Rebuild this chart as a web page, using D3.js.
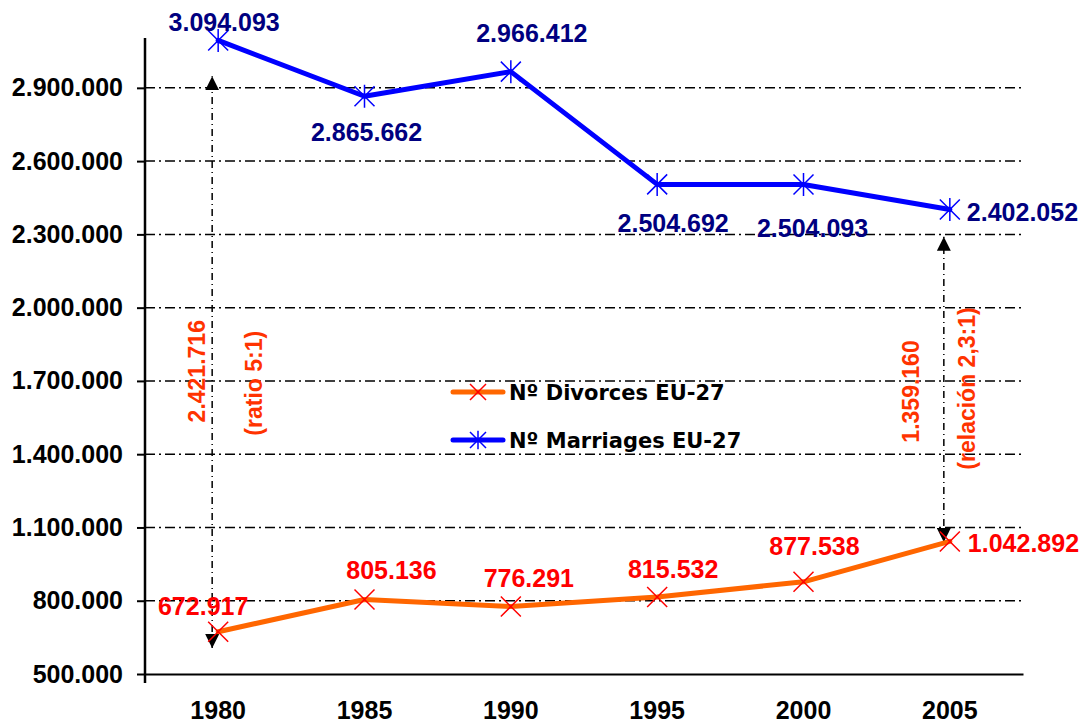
<!DOCTYPE html>
<html>
<head>
<meta charset="utf-8">
<script src="https://cdn.jsdelivr.net/npm/d3@7/dist/d3.min.js"></script>
<style>
  body { margin: 0; background: #fff; }
  svg text { font-family: "Liberation Sans", Arial, sans-serif; font-weight: bold; }
</style>
</head>
<body>
<div id="chart"></div>
<script>
// data
const years = ['1980', '1985', '1990', '1995', '2000', '2005']
const marriages = [3094093, 2865662, 2966412, 2504692, 2504093, 2402052]
const divorces = [672917, 805136, 776291, 815532, 877538, 1042892]
const yTicks = [500000, 800000, 1100000, 1400000, 1700000, 2000000, 2300000, 2600000, 2900000]
const legendNames = ['Nº Divorces EU-27', 'Nº Marriages EU-27']
// gap annotations: year, from value, to value, gap text, ratio text
const gapYears = ['1980', '2005']
const gapFrom = [606000, 1040000]
const gapTo = [2947000, 2290000]
const gapText = ['2.421.716', '1.359.160']
const ratioText = ['(ratio 5:1)', '(relación 2,3:1)']

// label placement (dx, dy, anchor) next to each point
const mLab = [[6, -9, 'middle'], [2, 45, 'middle'], [21, -30, 'middle'], [16, 48, 'middle'], [9, 52, 'middle'], [17, 12, 'start']]
const dLab = [[-15, -17, 'middle'], [27, -20, 'middle'], [18, -20, 'middle'], [16, -19, 'middle'], [11, -27, 'middle'], [18, 11, 'start']]

const W = 1080, H = 725
const pLeft = 145, pRight = 1023, pTop = 39, pBottom = 674

const fmt = v => d3.format(',')(v).replace(/,/g, '.')

const svg = d3.select('#chart').append('svg')
  .attr('width', W).attr('height', H)

const x = d3.scaleBand().domain(years).range([pLeft, pRight])
const y = d3.scaleLinear().domain([500000, 3100000]).range([pBottom, pTop])
const cx = d => x(d) + x.bandwidth() / 2

// grid lines, dash-dot
svg.append('g').selectAll('line')
  .data(yTicks.filter(t => t > 500000))
  .join('line')
  .attr('x1', pLeft).attr('x2', pRight)
  .attr('y1', d => y(d)).attr('y2', d => y(d))
  .attr('stroke', '#000').attr('stroke-width', 1.5)
  .attr('stroke-dasharray', '10,4,2,4')

// y axis
const yAxis = svg.append('g')
  .attr('transform', `translate(${pLeft},0)`)
  .call(d3.axisLeft(y).tickValues(yTicks).tickFormat(fmt).tickSizeInner(8).tickSizeOuter(0).tickPadding(14))
yAxis.select('.domain').remove()
yAxis.selectAll('.tick line').attr('stroke', '#000').attr('stroke-width', 2)
yAxis.selectAll('.tick text').attr('font-size', 25).attr('fill', '#000')
svg.append('line')
  .attr('x1', pLeft).attr('x2', pLeft).attr('y1', pTop - 1).attr('y2', pBottom + 9)
  .attr('stroke', '#000').attr('stroke-width', 2.5)

// x axis
const xAxis = svg.append('g')
  .attr('transform', `translate(0,${pBottom})`)
  .call(d3.axisBottom(x).tickSize(0).tickPadding(27))
xAxis.select('.domain').attr('stroke', '#000').attr('stroke-width', 2)
xAxis.selectAll('.tick text').attr('font-size', 25).attr('fill', '#000')

// arrow heads
const defs = svg.append('defs')
defs.append('marker').attr('id', 'arr')
  .attr('viewBox', '0 0 10 10').attr('refX', 10).attr('refY', 5)
  .attr('markerWidth', 14).attr('markerHeight', 14).attr('markerUnits', 'userSpaceOnUse')
  .attr('orient', 'auto-start-reverse')
  .append('path').attr('d', 'M0,0L10,5L0,10Z').attr('fill', '#000')

// gap annotations
gapYears.forEach((yr, i) => {
  const gx = cx(yr) - 6
  svg.append('line')
    .attr('x1', gx).attr('x2', gx)
    .attr('y1', y(gapFrom[i])).attr('y2', y(gapTo[i]))
    .attr('stroke', '#000').attr('stroke-width', 1.5)
    .attr('stroke-dasharray', '7,4,1,4')
    .attr('marker-start', 'url(#arr)').attr('marker-end', 'url(#arr)')
})
const gapTextPos = [[-7, 9], [-25, 2]]
const ratioPos = [[50, 21], [31, -1]]
gapYears.forEach((yr, i) => {
  const gx = cx(yr) - 6
  const my = (y(gapFrom[i]) + y(gapTo[i])) / 2
  svg.append('text')
    .attr('transform', `translate(${gx + gapTextPos[i][0]},${my + gapTextPos[i][1]}) rotate(-90)`)
    .attr('text-anchor', 'middle').attr('font-size', 23).attr('fill', '#FF3300')
    .text(gapText[i])
  svg.append('text')
    .attr('transform', `translate(${gx + ratioPos[i][0]},${my + ratioPos[i][1]}) rotate(-90)`)
    .attr('text-anchor', 'middle').attr('font-size', 23).attr('fill', '#FF3300')
    .text(ratioText[i])
})

// series lines
const line = d3.line().x((d, i) => cx(years[i])).y(d => y(d))
svg.append('path').datum(divorces).attr('d', line)
  .attr('fill', 'none').attr('stroke', '#FF6600').attr('stroke-width', 5)
  .attr('stroke-linejoin', 'round').attr('stroke-linecap', 'round')
svg.append('path').datum(marriages).attr('d', line)
  .attr('fill', 'none').attr('stroke', '#0000FF').attr('stroke-width', 5)
  .attr('stroke-linejoin', 'round').attr('stroke-linecap', 'round')

// markers
const crossPath = r => `M${-r},${-r}L${r},${r}M${-r},${r}L${r},${-r}`
const starPath = r => crossPath(r) + `M0,${-r * 1.15}L0,${r * 1.15}`
svg.append('g').selectAll('path').data(divorces).join('path')
  .attr('transform', (d, i) => `translate(${cx(years[i])},${y(d)})`)
  .attr('d', crossPath(10)).attr('stroke', '#FF0000').attr('stroke-width', 1.5).attr('fill', 'none')
svg.append('g').selectAll('path').data(marriages).join('path')
  .attr('transform', (d, i) => `translate(${cx(years[i])},${y(d)})`)
  .attr('d', starPath(10)).attr('stroke', '#0000FF').attr('stroke-width', 1.5).attr('fill', 'none')

// value labels
svg.append('g').selectAll('text').data(marriages).join('text')
  .attr('x', (d, i) => cx(years[i]) + mLab[i][0])
  .attr('y', (d, i) => y(d) + mLab[i][1])
  .attr('text-anchor', (d, i) => mLab[i][2])
  .attr('font-size', 25).attr('fill', '#000080')
  .text(fmt)
svg.append('g').selectAll('text').data(divorces).join('text')
  .attr('x', (d, i) => cx(years[i]) + dLab[i][0])
  .attr('y', (d, i) => y(d) + dLab[i][1])
  .attr('text-anchor', (d, i) => dLab[i][2])
  .attr('font-size', 25).attr('fill', '#FF0000')
  .text(fmt)

// legend
const lg = svg.append('g').attr('transform', 'translate(453,392)')
const legendColors = ['#FF6600', '#0000FF']
const legendMarkColors = ['#FF0000', '#0000FF']
legendNames.forEach((name, i) => {
  const row = lg.append('g').attr('transform', `translate(0,${i * 48})`)
  row.append('line').attr('x1', 0).attr('x2', 50).attr('y1', 0).attr('y2', 0)
    .attr('stroke', legendColors[i]).attr('stroke-width', 5).attr('stroke-linecap', 'round')
  row.append('path').attr('transform', 'translate(25,0)')
    .attr('d', i === 0 ? crossPath(8) : starPath(8))
    .attr('stroke', legendMarkColors[i]).attr('stroke-width', 1.5).attr('fill', 'none')
  row.append('text').attr('x', 56).attr('y', 8)
    .style('font-family', '"DejaVu Sans", Verdana, sans-serif')
    .attr('font-size', 21).attr('fill', '#000')
    .text(name)
})
</script>
</body>
</html>
